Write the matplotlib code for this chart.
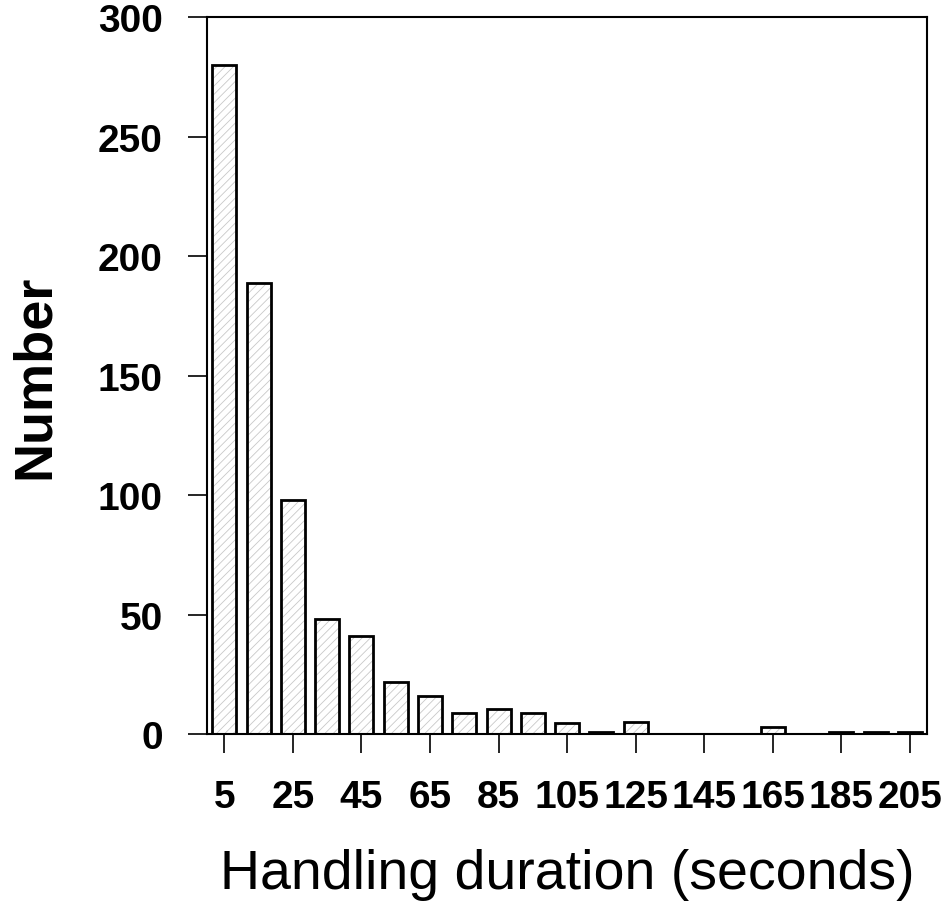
import numpy as np
import matplotlib.pyplot as plt

plt.rcParams['font.family'] = ['Liberation Sans', 'DejaVu Sans']
plt.rcParams['hatch.linewidth'] = 0.6

# bin centres (seconds) and counts
durations = [5, 15, 25, 35, 45, 55, 65, 75, 85, 95, 105, 115, 125, 135, 145, 155, 165, 175, 185, 195, 205]
counts = [280, 189, 98, 48, 41, 22, 16, 9, 10.5, 9, 4.6, 1, 5, 0, 0, 0, 3, 0, 1, 1, 1]

tick_pos = [5, 25, 45, 65, 85, 105, 125, 145, 165, 185, 205]
tick_labels = [str(t) for t in tick_pos]

fig = plt.figure(figsize=(9.46, 9.2), dpi=100)
ax = fig.add_axes([0.219, 0.201, 0.761, 0.779])

# faint hatching inside, then black outlines on top
ax.bar(durations, counts, width=7, color='white', edgecolor='#c8c8c8',
       linewidth=0, hatch='////', zorder=2)
ax.bar(durations, counts, width=7, fill=False, edgecolor='black',
       linewidth=2, zorder=3)

ax.set_xlim(0, 210)
ax.set_ylim(0, 300)
ax.set_yticks([0, 50, 100, 150, 200, 250, 300])
ax.set_xticks(tick_pos)
ax.set_xticklabels(tick_labels)

ax.tick_params(axis='x', direction='out', length=14, width=1.2, pad=18,
               labelsize=28)
ax.tick_params(axis='y', direction='out', length=14, width=1.2, pad=18,
               labelsize=28)
for lab in ax.get_xticklabels() + ax.get_yticklabels():
    lab.set_fontweight('bold')

for s in ax.spines.values():
    s.set_linewidth(1.5)

ax.set_ylabel('Number', fontsize=39, fontweight='bold', labelpad=27)
ax.set_xlabel('Handling duration (seconds)', fontsize=40, labelpad=24)

fig.savefig('out.png', dpi=100)
